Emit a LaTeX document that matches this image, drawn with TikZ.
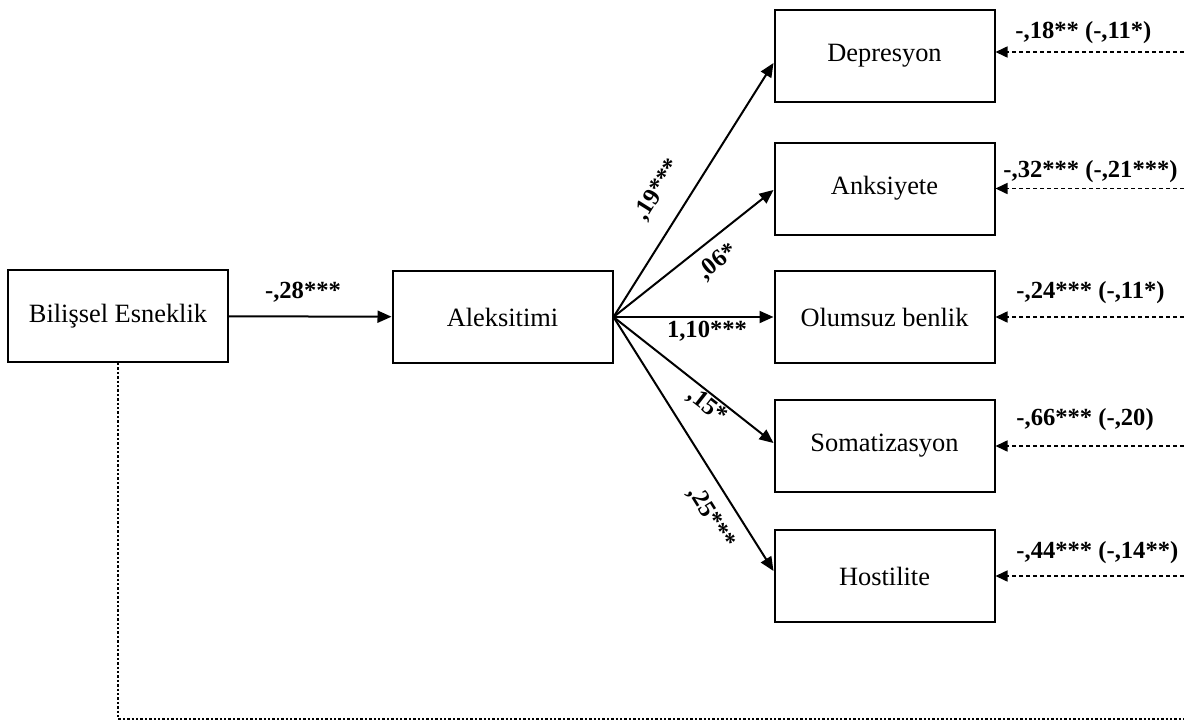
\documentclass[tikz,border=0pt]{standalone}
\usepackage{fontspec}
\setmainfont{Liberation Serif}
\usetikzlibrary{arrows.meta}
\begin{document}
\begin{tikzpicture}[x=0.5pt,y=-0.5pt,
  box/.style={draw, line width=1pt, minimum width=110pt, minimum height=46pt, inner sep=0pt, font=\fontsize{13.2}{15}\selectfont},
  coef/.style={font=\fontsize{12.3}{14}\selectfont\bfseries, inner sep=0.5pt},
  patharr/.style={line width=1pt, -{Triangle[length=7pt,width=6pt]}},
  dasharr/.style={line width=0.8pt, dash pattern=on 2pt off 1.5pt, -{Triangle[length=6pt,width=5.5pt]}},
  dotln/.style={line width=0.7pt, dash pattern=on 1.2pt off 1pt}]
\useasboundingbox (0,0) rectangle (1184,723);
\node[box] (bil) at (118,316) {Bilişsel Esneklik};
\node[box] (ale) at (502.5,317) {Aleksitimi};
\node[box] (dep) at (884.5,55.5) {Depresyon};
\node[box] (ank) at (884.5,188.5) {Anksiyete};
\node[box] (olu) at (884.5,317) {Olumsuz benlik};
\node[box] (som) at (884.5,446) {Somatizasyon};
\node[box] (hos) at (884.5,576) {Hostilite};
\coordinate (R) at (1184,0);
\coordinate (B) at (117,719);
% paths
\draw[patharr] (bil) -- (ale);
\draw[patharr] (ale.east) -- ([yshift=-3.75pt]dep.west);
\draw[patharr] (ale.east) -- ([yshift=-0.75pt]ank.west);
\draw[patharr] (ale.east) -- (olu.west);
\draw[patharr] (ale.east) -- ([yshift=1.5pt]som.west);
\draw[patharr] (ale.east) -- ([yshift=2.5pt]hos.west);
% dashed arrows from right
\draw[dasharr] ([yshift=1.75pt]dep.east -| R) -- ([yshift=1.75pt]dep.east);
\draw[dasharr] (ank.east -| R) -- (ank.east);
\draw[dasharr] (olu.east -| R) -- (olu.east);
\draw[dasharr] (som.east -| R) -- (som.east);
\draw[dasharr] (hos.east -| R) -- (hos.east);
% dotted line
\draw[dotln] (bil.south) -- (bil.south |- B) -- (B -| R);
% coefficients
\node[coef] (l0) at (303,292) {-,28***};
\node[coef, rotate=58] (l1) at (658,190) {,19***};
\node[coef, rotate=38.7] (l2) at (718,262) {,06*};
\node[coef] (l3) at (707,331) {1,10***};
\node[coef, rotate=-38] (l4) at (707,406) {,15*};
\node[coef, rotate=-58] (l5) at (711,518) {,25***};
\node[coef, anchor=west] (r1) at (1014,33) {-,18** (-,11*)};
\node[coef, anchor=west] (r2) at (1002,172) {-,32*** (-,21***)};
\node[coef, anchor=west] (r3) at (1015,293) {-,24*** (-,11*)};
\node[coef, anchor=west] (r4) at (1015,420) {-,66*** (-,20)};
\node[coef, anchor=west] (r5) at (1015,553) {-,44*** (-,14**)};
\end{tikzpicture}
\end{document}
